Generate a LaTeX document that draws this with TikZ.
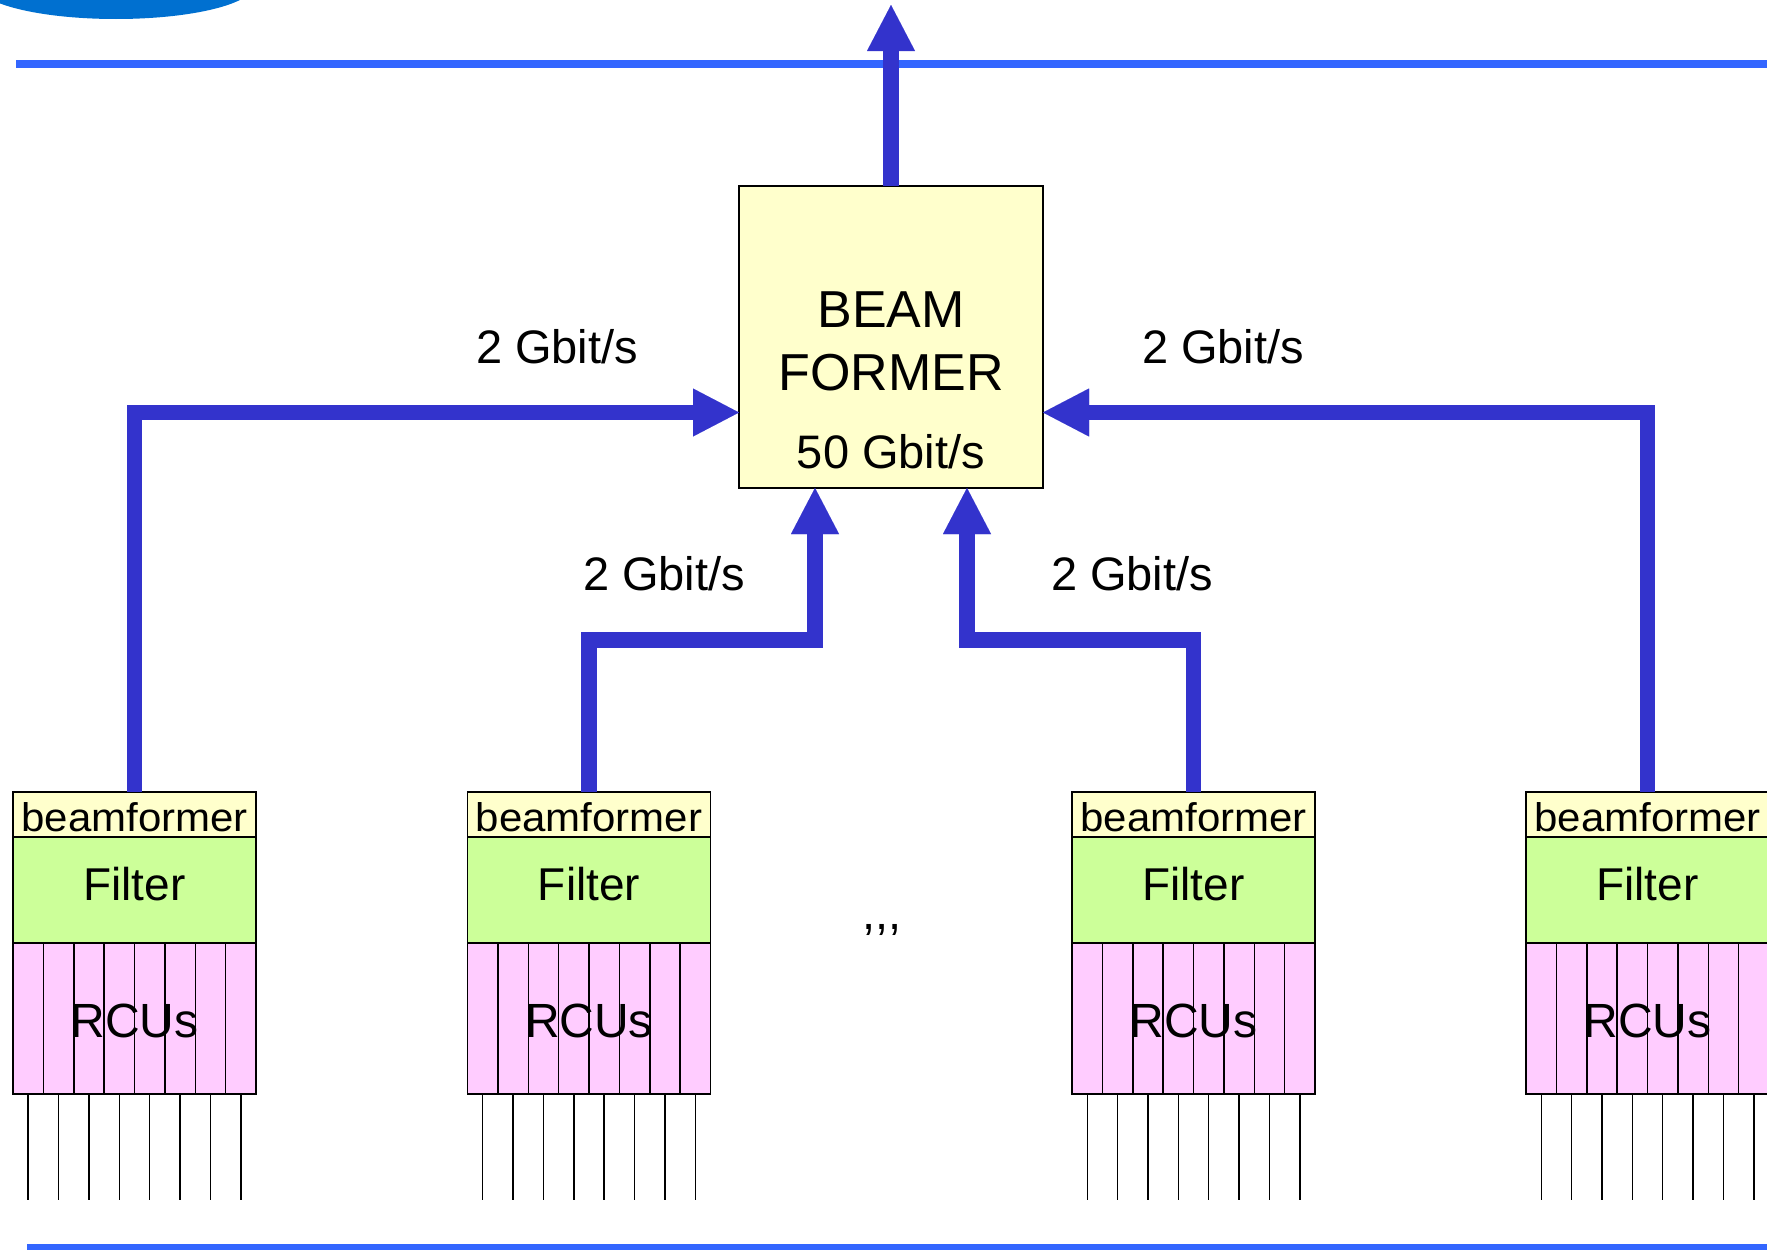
\documentclass[tikz,border=0pt]{standalone}
\usepackage{fontspec}
\setmainfont{Liberation Sans}
\usetikzlibrary{arrows.meta,calc}
\definecolor{arrowblue}{HTML}{3333CC}
\definecolor{lineblue}{HTML}{3366FF}
\definecolor{ellblue}{HTML}{0070D0}
\definecolor{bfyellow}{HTML}{FFFFCC}
\definecolor{filtgreen}{HTML}{CCFF99}
\definecolor{rcupink}{HTML}{FFCCFF}
\begin{document}
\begin{tikzpicture}[x=1pt,y=-1pt,
  flow/.style={draw=arrowblue, line width=15.5pt, line join=miter,
    -{Triangle[length=46pt,width=48pt,line width=0.01pt]}},
  rule/.style={draw=lineblue, line width=7.5pt},
  cell/.style={draw=black, line width=1.8pt, inner sep=0pt, outer sep=0pt,
    minimum width=243pt, anchor=north},
  bfrow/.style={cell, fill=bfyellow, minimum height=45pt},
  filtrow/.style={cell, fill=filtgreen, minimum height=106pt},
  rcurow/.style={cell, fill=rcupink, minimum height=151pt},
  mainbox/.style={draw=black, line width=1.8pt, fill=bfyellow, inner sep=0pt,
    outer sep=0pt, minimum width=304pt, minimum height=302pt},
  lbl/.style={anchor=base, inner sep=0pt, font=\fontsize{47}{56}\selectfont},
  big/.style={anchor=base, inner sep=0pt, font=\fontsize{52}{62}\selectfont},
]
\useasboundingbox (0,0) rectangle (1767,1250);
\clip (0,0) rectangle (1767,1250);

% decorative top ellipse and rules
\fill[ellblue] (116,-15) ellipse [x radius=138pt, y radius=34pt];
\draw[rule] (16,64) -- (1767,64);
\draw[rule] (27,1248) -- (1767,1248);

% central beam former
\node[mainbox] (bf) at (891,337) {};
\node[big] (tbeam) at (891,327) {BEAM};
\node[big] (tformer) at (891,390) {FORMER};
\node[lbl] (t50) at (891,468) {50 Gbit/s};
\coordinate (out) at (891,5);
\draw[flow] (bf.north) -- (out);

% station modules
\foreach \i/\cx in {1/134.5, 2/589, 3/1193.5, 4/1647.5} {
  \node[bfrow] (b\i) at (\cx,792) {};
  \node[filtrow] (f\i) at (b\i.south) {};
  \node[rcurow] (r\i) at (f\i.south) {};
  \foreach \k in {1,...,7}
    \draw[black, line width=1.5pt] ($(r\i.north west)+(\k*30.375,0)$) -- ($(r\i.south west)+(\k*30.375,0)$);
  \foreach \k in {0,...,7}
    \draw[black, line width=1.4pt] ($(r\i.south west)+(\k*30.375+15.19,0)$) -- ++(0,106);
  \node[anchor=base, inner sep=0pt, font=\fontsize{40}{48}\selectfont] (tb\i) at (\cx,831) {\scalebox{1.05}[1]{beamformer}};
  \node[anchor=base, inner sep=0pt, font=\fontsize{46}{55}\selectfont] (tf\i) at (\cx,900) {Filter};
  \node[anchor=base, inner sep=0pt, font=\fontsize{48}{58}\selectfont] (tr\i) at (\cx,1037) {RCUs};
}

\node[lbl] (dots) at (882,929) {{,}{,}{,}};

% connectors
\draw[flow] (b1.north) |- ($(bf.south west)!0.25!(bf.north west)$);
\draw[flow] (b4.north) |- ($(bf.south east)!0.25!(bf.north east)$);
\draw[flow] (b2.north) -- ++(0,-152) -| ($(bf.south)+(-76,0)$);
\draw[flow] (b3.north) -- ++(0,-152) -| ($(bf.south)+(76,0)$);

% rate labels
\node[lbl] (l1) at (557,363) {2 Gbit/s};
\node[lbl] (l2) at (1223,363) {2 Gbit/s};
\node[lbl] (l3) at (664,590) {2 Gbit/s};
\node[lbl] (l4) at (1132,590) {2 Gbit/s};
\end{tikzpicture}
\end{document}
